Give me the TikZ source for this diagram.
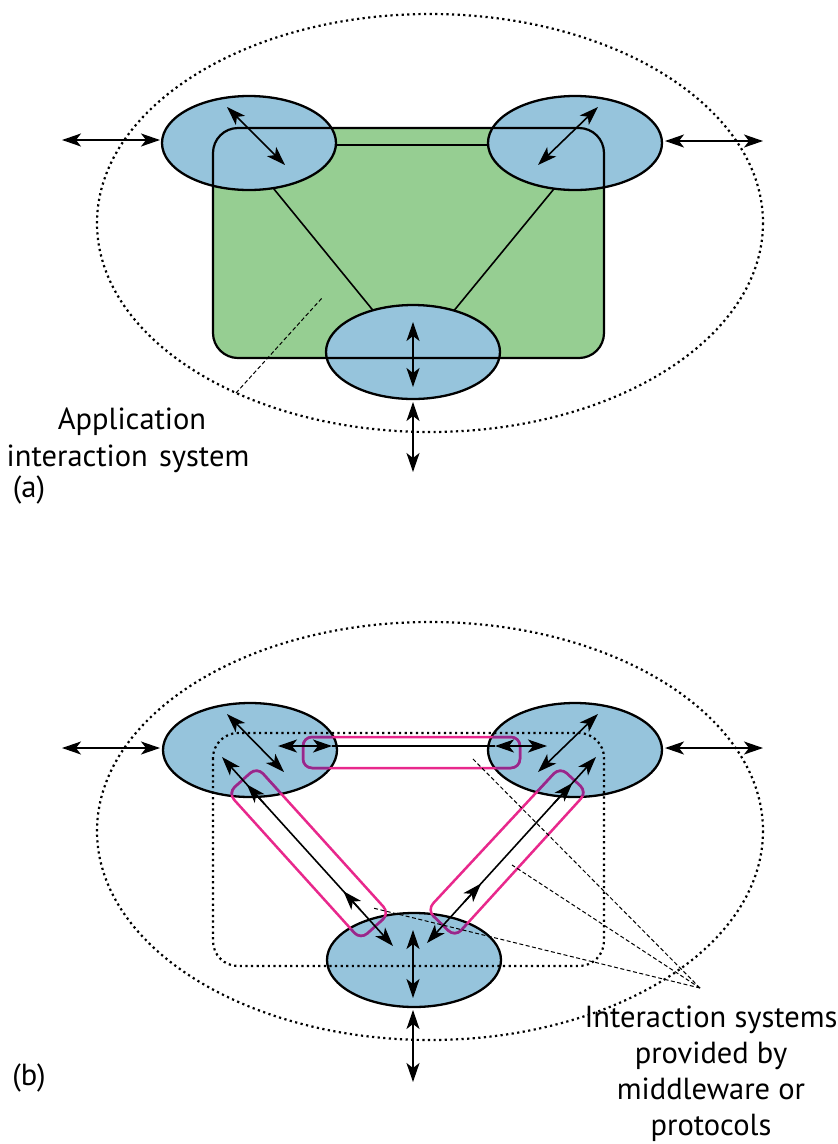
\documentclass[tikz,border=0pt]{standalone}
\usepackage{fontspec}
\setmainfont{PT Sans}
\usetikzlibrary{arrows.meta,shapes.geometric,calc}
\definecolor{cellblue}{RGB}{150,196,220}
\definecolor{appgreen}{RGB}{150,206,146}
\definecolor{mwpink}{RGB}{232,40,140}
\definecolor{mwpurple}{RGB}{150,40,140}
\tikzset{
  cell/.style={ellipse,draw=black,line width=2.3,fill=cellblue,minimum width=174,minimum height=94,inner sep=0},
  outerdot/.style={draw=black,line width=2.2,dash pattern=on 2.2 off 3.4},
  link/.style={draw=black,line width=1.6},
  dbl/.style={line width=1.6,{Stealth[length=19pt,width=13pt,inset=5pt]}-{Stealth[length=19pt,width=13pt,inset=5pt]}},
  head/.style={line width=1.6,-{Stealth[length=19pt,width=13pt,inset=5pt]}},
  leader/.style={draw=black,line width=1,dash pattern=on 4 off 2.5},
  channel/.style={draw=mwpink,line width=2.5,rounded corners=9},
  label/.style={font=\fontsize{30.5}{36}\selectfont,inner sep=0}
}
\begin{document}
\begin{tikzpicture}[x=1pt,y=-1pt]
\useasboundingbox (0,0) rectangle (838,1144);

% ---------------- (a) application interaction system ----------------
\fill[appgreen,rounded corners=25] (213,128) rectangle (604,358);
\path[outerdot] (430,223) ellipse [x radius=333,y radius=209];

\coordinate (la1) at (238,145); \coordinate (la2) at (407,352);
\coordinate (ra1) at (590,145); \coordinate (ra2) at (420,352);
\coordinate (ha1) at (249,145); \coordinate (ha2) at (575,145);
\draw[link] (la1) -- (la2);
\draw[link] (ra1) -- (ra2);
\draw[link] (ha1) -- (ha2);

\node[cell] (tla) at (249,143) {};
\node[cell] (tra) at (575,143) {};
\node[cell] (ba) at (413,352) {};
\draw[black,line width=2.2,rounded corners=25] (213,128) rectangle (604,358);

\coordinate (a1) at (227,107); \coordinate (a2) at (285,165);
\coordinate (a3) at (598,107); \coordinate (a4) at (538,165);
\coordinate (a5) at (413,322); \coordinate (a6) at (413,387);
\coordinate (e1) at (62,140);  \coordinate (e2) at (160,140);
\coordinate (e3) at (665,141); \coordinate (e4) at (763,141);
\coordinate (e5) at (413,402); \coordinate (e6) at (413,472);
\draw[dbl] (a1) -- (a2);
\draw[dbl] (a3) -- (a4);
\draw[dbl] (a5) -- (a6);
\draw[dbl] (e1) -- (e2);
\draw[dbl] (e3) -- (e4);
\draw[dbl] (e5) -- (e6);

\node[label] (applab1) at (132,422) {Application};
\node[label] (applab2) at (128,459) {interaction\hspace{0.1em} system};
\coordinate (append) at (322,298);
\draw[leader] (236,393) -- (append);
\node[label] (tagA) at (29,490) {(a)};

% ---------------- (b) middleware interaction systems ----------------
\path[outerdot] (430,831) ellipse [x radius=333,y radius=209];
\node[cell] (tlb) at (250,750) {};
\node[cell] (trb) at (575,750) {};
\node[cell] (bb) at (414,960) {};

% channels provided by middleware
\def\hchan{(303,737) rectangle (520,768)}
\def\lchan{(257,767) -- (389.5,913.4) -- (360.5,939.6) -- (228,793) -- cycle}
\def\rchan{(560,767) -- (587,792) -- (455,937) -- (427,910) -- cycle}
\draw[channel] \hchan;
\draw[channel] \lchan;
\draw[channel] \rchan;
\begin{scope}
  \clip (250,750) ellipse [x radius=86,y radius=46];
  \draw[channel,draw=mwpurple] \hchan;
  \draw[channel,draw=mwpurple] \lchan;
\end{scope}
\begin{scope}
  \clip (575,750) ellipse [x radius=86,y radius=46];
  \draw[channel,draw=mwpurple] \hchan;
  \draw[channel,draw=mwpurple] \rchan;
\end{scope}
\begin{scope}
  \clip (414,960) ellipse [x radius=86,y radius=46];
  \draw[channel,draw=mwpurple] \lchan;
  \draw[channel,draw=mwpurple] \rchan;
\end{scope}

\draw[outerdot,rounded corners=25] (213,733) rectangle (604,966);

% horizontal channel
\coordinate (h1) at (278,746); \coordinate (h2) at (332,746);
\coordinate (h3) at (495,746); \coordinate (h4) at (547,746);
\draw[dbl] (h1) -- (h2);
\draw[dbl] (h3) -- (h4);
\draw[link,line width=1.3] (h2) -- (h3);

% left diagonal channel
\coordinate (lt) at (222,757); \coordinate (lb) at (393,946);
\draw[dbl] (lt) -- (lb);
\draw[head] ($(lt)!0.25!(lb)$) -- ($(lt)!0.145!(lb)$);
\draw[head] ($(lt)!0.81!(lb)$) -- ($(lt)!0.71!(lb)$);

% right diagonal channel
\coordinate (rt) at (596,757); \coordinate (rb) at (427,943);
\draw[dbl] (rt) -- (rb);
\draw[head] ($(rt)!0.25!(rb)$) -- ($(rt)!0.14!(rb)$);
\draw[head] ($(rt)!0.78!(rb)$) -- ($(rt)!0.68!(rb)$);

\coordinate (b1) at (227,714); \coordinate (b2) at (284,772);
\coordinate (b3) at (598,714); \coordinate (b4) at (538,772);
\coordinate (b5) at (413,930); \coordinate (b6) at (413,998);
\coordinate (f1) at (62,748);  \coordinate (f2) at (160,748);
\coordinate (f3) at (665,748); \coordinate (f4) at (763,748);
\coordinate (f5) at (413,1010); \coordinate (f6) at (413,1082);
\draw[dbl] (b1) -- (b2);
\draw[dbl] (b3) -- (b4);
\draw[dbl] (b5) -- (b6);
\draw[dbl] (f1) -- (f2);
\draw[dbl] (f3) -- (f4);
\draw[dbl] (f5) -- (f6);

\node[label,align=center] (mwlab) at (711,1074) {Interaction systems\\provided by\\middleware or\\protocols};
\coordinate (conv) at (700,988);
\draw[leader] (conv) -- (472,758);
\draw[leader] (conv) -- (512,865);
\draw[leader] (conv) -- (373,908);
\node[label] (tagB) at (29,1078) {(b)};
\end{tikzpicture}
\end{document}
